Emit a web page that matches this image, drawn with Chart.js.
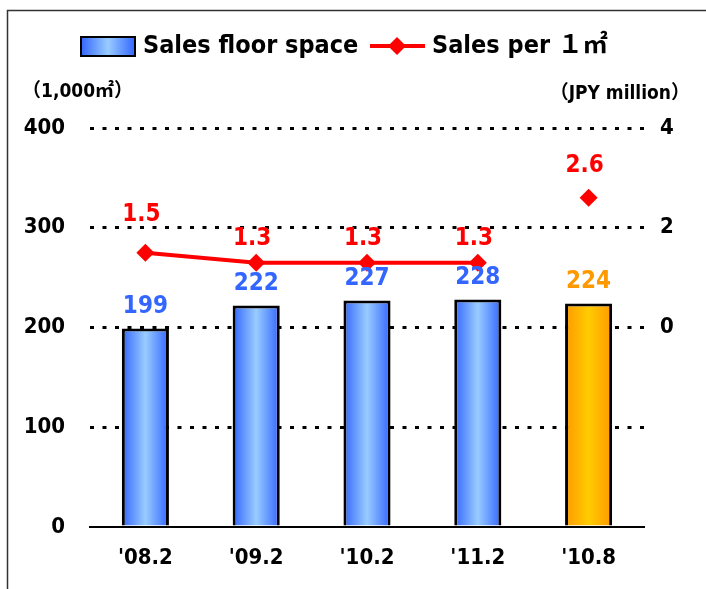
<!DOCTYPE html>
<html>
<head>
<meta charset="utf-8">
<script src="https://cdn.jsdelivr.net/npm/chart.js@4"></script>
<style>
  body { margin: 0; background: #fff; }
  #wrap { position: relative; width: 706px; height: 589px; }
</style>
</head>
<body>
<div id="wrap"><canvas id="myChart"></canvas></div>
<script>
const labels = ["'08.2", "'09.2", "'10.2", "'11.2", "'10.8"];
const floorSpace = [199, 222, 227, 228, 224];
const salesPerM2 = [1.5, 1.3, 1.3, 1.3, 2.6];
const leftTicks = [0, 100, 200, 300, 400];
const rightTicks = [0, 2, 4];

const FONT = "'Liberation Sans Narrow', 'DejaVu Sans Condensed', 'Noto Sans CJK JP', sans-serif";
const last = labels.length - 1;
const BAR_PCT = 0.425;

function barGradient(ctx, x0, x1, isLast) {
    const g = ctx.createLinearGradient(x0, 0, x1, 0);
    const edge = isLast ? '#ff9900' : '#3366ff';
    const mid = isLast ? '#ffcc00' : '#99ccff';
    g.addColorStop(0, edge);
    g.addColorStop(0.5, mid);
    g.addColorStop(1, edge);
    return g;
}

function barFill(c) {
    const chart = c.chart;
    if (!chart.chartArea) return '#6699ff';
    const x = chart.scales.x;
    const cx = x.getPixelForValue(c.dataIndex);
    const half = x.width / labels.length * BAR_PCT / 2;
    return barGradient(chart.ctx, cx - half, cx + half, c.dataIndex === last);
}

// value labels, legend, axis titles and frame
const extras = {
    id: 'extras',
    afterDatasetsDraw(chart) {
        const ctx = chart.ctx;
        ctx.save();
        ctx.textAlign = 'center';
        ctx.textBaseline = 'middle';
        ctx.font = 'bold 24px ' + FONT;
        chart.getDatasetMeta(1).data.forEach((bar, i) => {
            ctx.fillStyle = i === last ? '#ff9900' : '#3366ff';
            ctx.fillText(floorSpace[i], bar.x, bar.y - 22);
        });
        const offsets = [38, 24, 24, 24, 32];
        chart.getDatasetMeta(0).data.forEach((pt, i) => {
            ctx.fillStyle = '#ff0000';
            ctx.fillText(salesPerM2[i].toFixed(1), pt.x - 4, pt.y - offsets[i]);
        });
        ctx.restore();
    },
    afterDraw(chart) {
        const ctx = chart.ctx;
        ctx.save();
        // frame
        ctx.strokeStyle = '#333';
        ctx.lineWidth = 1.5;
        ctx.beginPath();
        ctx.moveTo(7.5, 589);
        ctx.lineTo(7.5, 10.5);
        ctx.lineTo(706, 10.5);
        ctx.stroke();

        // legend
        const ly = 46;
        ctx.fillStyle = barGradient(ctx, 81, 135, false);
        ctx.fillRect(81, 37, 54, 19);
        ctx.strokeStyle = '#000';
        ctx.lineWidth = 2;
        ctx.strokeRect(81, 37, 54, 19);
        ctx.strokeStyle = '#ff0000';
        ctx.lineWidth = 4;
        ctx.beginPath();
        ctx.moveTo(370, ly);
        ctx.lineTo(425, ly);
        ctx.stroke();
        ctx.fillStyle = '#ff0000';
        ctx.beginPath();
        ctx.moveTo(397, ly - 9);
        ctx.lineTo(406, ly);
        ctx.lineTo(397, ly + 9);
        ctx.lineTo(388, ly);
        ctx.closePath();
        ctx.fill();

        ctx.fillStyle = '#000';
        ctx.textBaseline = 'middle';
        ctx.textAlign = 'left';
        ctx.font = 'bold 25px ' + FONT;
        ctx.fillText('Sales floor space', 143, ly);
        ctx.fillText('Sales per １㎡', 432, ly);

        // axis titles
        ctx.font = 'bold 19px ' + FONT;
        ctx.fillText('（1,000㎡）', 22, 92);
        ctx.textAlign = 'right';
        ctx.fillText('（JPY million）', 690, 94);
        ctx.restore();
    }
};

const ctx = document.getElementById('myChart').getContext('2d');

const myChart = new Chart(ctx, {
    type: 'bar',
    data: {
        labels: labels,
        datasets: [
            {
                type: 'line',
                label: 'Sales per 1㎡',
                data: salesPerM2,
                yAxisID: 'y1',
                borderColor: '#ff0000',
                backgroundColor: '#ff0000',
                borderWidth: 4,
                pointStyle: 'rectRot',
                pointRadius: 9,
                pointBorderWidth: 0,
                tension: 0,
                segment: {
                    borderColor: c => c.p1DataIndex === last ? 'rgba(0,0,0,0)' : '#ff0000'
                },
                order: 0
            },
            {
                label: 'Sales floor space',
                data: floorSpace,
                yAxisID: 'y',
                backgroundColor: barFill,
                borderColor: '#000',
                borderWidth: 3,
                barPercentage: BAR_PCT,
                categoryPercentage: 1,
                order: 1
            }
        ]
    },
    options: {
        responsive: true,
        maintainAspectRatio: false,
        animation: false,
        layout: { padding: { top: 128, left: 0, right: 0, bottom: 0 } },
        plugins: {
            legend: { display: false },
            tooltip: { enabled: false }
        },
        scales: {
            x: {
                grid: { display: false },
                border: { display: true, color: '#000', width: 2 },
                ticks: {
                    color: '#000',
                    padding: 10,
                    font: { family: FONT, size: 22, weight: 'bold' }
                },
                afterFit: s => { s.height = 62; }
            },
            y: {
                position: 'left',
                min: 0,
                max: 400,
                afterBuildTicks: s => { s.ticks = leftTicks.map(v => ({ value: v })); },
                grid: {
                    drawTicks: false,
                    color: c => c.tick && c.tick.value === 0 ? 'rgba(0,0,0,0)' : '#000',
                    lineWidth: 3
                },
                border: { display: false, dash: [4, 8.5] },
                ticks: {
                    color: '#000',
                    padding: 25,
                    font: { family: FONT, size: 22, weight: 'bold' }
                },
                afterFit: s => { s.width = 90; }
            },
            y1: {
                position: 'right',
                min: -4,
                max: 4,
                afterBuildTicks: s => { s.ticks = rightTicks.map(v => ({ value: v })); },
                grid: { display: false, drawTicks: false },
                border: { display: false },
                ticks: {
                    color: '#000',
                    padding: 16,
                    font: { family: FONT, size: 22, weight: 'bold' }
                },
                afterFit: s => { s.width = 62; }
            }
        }
    },
    plugins: [extras]
});
</script>
</body>
</html>
